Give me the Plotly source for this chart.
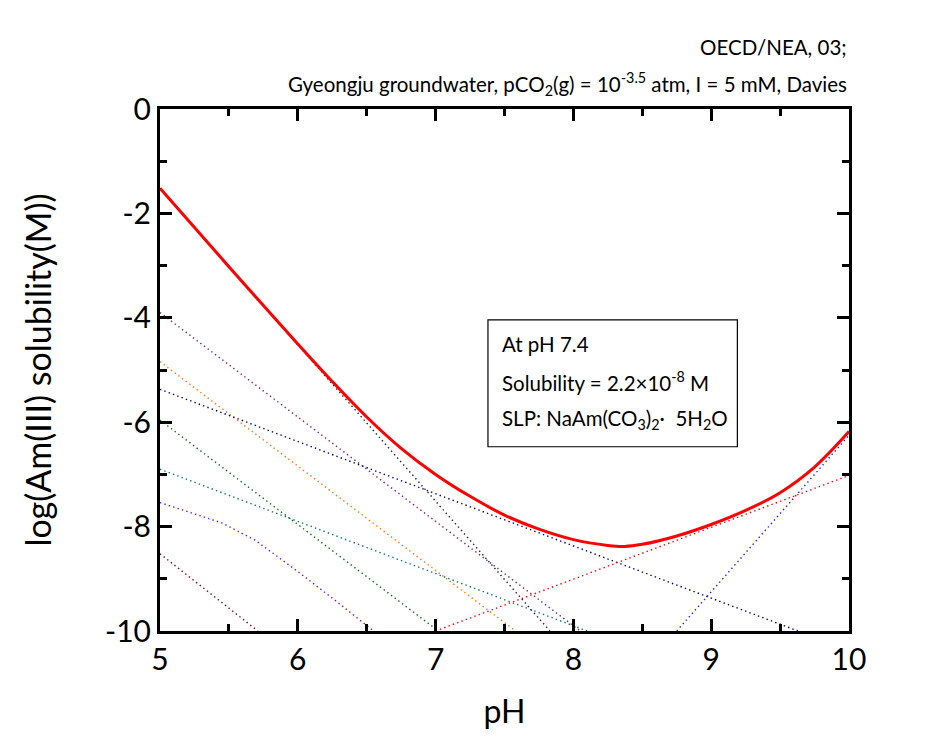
import plotly.graph_objects as go

# total solubility (red solid)
ph_total = [5.0, 5.5, 6.0, 6.25, 6.5, 6.75, 7.0, 7.25, 7.5, 7.75, 8.0, 8.25, 8.37,
            8.5, 8.75, 9.0, 9.25, 9.5, 9.75, 10.0]
log_total = [-1.52, -3.02, -4.50, -5.22, -5.90, -6.50, -7.00, -7.42, -7.78, -8.05,
             -8.25, -8.36, -8.38, -8.34, -8.18, -7.96, -7.69, -7.35, -6.86, -6.18]

# species lines (dotted)
sp_black_ph = [5.0, 7.83]
sp_black = [-1.52, -10.0]
sp_purple_ph = [5.0, 8.05]
sp_purple = [-3.90, -10.0]
sp_orange_ph = [5.0, 7.58]
sp_orange = [-4.84, -10.0]
sp_navy_ph = [5.0, 9.63]
sp_navy = [-5.37, -10.0]
sp_green_ph = [5.0, 7.02]
sp_green = [-5.96, -10.0]
sp_teal_ph = [5.0, 8.1]
sp_teal = [-6.90, -10.0]
sp_violet_ph = [5.0, 5.45, 5.69, 6.0, 6.27, 6.55]
sp_violet = [-7.54, -7.93, -8.26, -8.86, -9.41, -10.0]
sp_maroon_ph = [5.0, 5.71]
sp_maroon = [-8.52, -10.0]
sp_red_ph = [7.0, 10.0]
sp_red = [-10.0, -7.02]
sp_blue_ph = [8.75, 10.0]
sp_blue = [-10.0, -6.25]

x_ticks = [5, 6, 7, 8, 9, 10]
y_ticks = [0, -2, -4, -6, -8, -10]
y_tick_text = ['0', '-2', '-4', '-6', '-8', '-10']

box_lines = ['At pH 7.4',
             'Solubility = 2.2\u00d710<sup>-8</sup> M',
             'SLP: NaAm(CO<sub>3</sub>)<sub>2</sub>\u00b7  5H<sub>2</sub>O']

species = [
    (sp_black_ph, sp_black, '#222222'),
    (sp_purple_ph, sp_purple, '#80207F'),
    (sp_orange_ph, sp_orange, '#FF7410'),
    (sp_navy_ph, sp_navy, '#000080'),
    (sp_green_ph, sp_green, '#0B6E0B'),
    (sp_teal_ph, sp_teal, '#087272'),
    (sp_violet_ph, sp_violet, '#7010FF'),
    (sp_maroon_ph, sp_maroon, '#700A0A'),
    (sp_red_ph, sp_red, '#FF0000'),
    (sp_blue_ph, sp_blue, '#2020FF'),
]

font = 'Lato'

fig = go.Figure()
for xs, ys, c in species:
    fig.add_trace(go.Scatter(x=xs, y=ys, mode='lines',
                             line=dict(color=c, width=1.4, dash='1.4px,3.2px'),
                             showlegend=False, hoverinfo='skip'))
fig.add_trace(go.Scatter(x=ph_total, y=log_total, mode='lines',
                         line=dict(color='#FF0000', width=3, shape='spline'),
                         showlegend=False))

# text box
fig.add_shape(type='rect', x0=7.38, x1=9.19, y0=-6.47, y1=-4.04,
              line=dict(color='black', width=1.2), fillcolor='rgba(0,0,0,0)')
for i, t in enumerate(box_lines):
    fig.add_annotation(x=7.47, y=-4.5 - 0.72 * i, xref='x', yref='y',
                       xanchor='left', yanchor='middle', align='left', showarrow=False,
                       text=t, font=dict(family=font, size=20.5, color='black'))

fig.add_annotation(x=1.0, y=1.0, xref='paper', yref='paper', xanchor='right', yanchor='bottom',
                   yshift=48, showarrow=False, text='OECD/NEA, 03;',
                   font=dict(family=font, size=20.5, color='black'))
fig.add_annotation(x=1.0, y=1.0, xref='paper', yref='paper', xanchor='right', yanchor='bottom',
                   yshift=8, showarrow=False,
                   text='Gyeongju groundwater, pCO<sub>2</sub>(g) = 10<sup>-3.5</sup> atm, I = 5 mM, Davies',
                   font=dict(family=font, size=20.5, color='black'))

axis_common = dict(showline=True, linecolor='black', linewidth=3, mirror='ticks',
                   ticks='inside', tickcolor='black', tickwidth=3, ticklen=12,
                   showgrid=False, zeroline=False,
                   tickfont=dict(family=font, size=30, color='black'))

fig.update_layout(
    width=919, height=741,
    margin=dict(l=152, r=78, t=101, b=118),
    paper_bgcolor='white', plot_bgcolor='white',
    xaxis=dict(range=[5, 10], tickvals=x_ticks, ticktext=[str(v) for v in x_ticks],
               minor=dict(ticks='inside', dtick=0.5, ticklen=7, tickwidth=3, tickcolor='black'),
               title=dict(text='pH', font=dict(family=font, size=32, color='black'), standoff=26),
               **axis_common),
    yaxis=dict(range=[-10, 0], tickvals=y_ticks, ticktext=y_tick_text,
               minor=dict(ticks='inside', dtick=1, ticklen=7, tickwidth=3, tickcolor='black'),
               title=dict(text='log(Am(III) solubility(M))', font=dict(family=font, size=34, color='black'),
                          standoff=44),
               **axis_common),
)

fig.write_html('out.html')
